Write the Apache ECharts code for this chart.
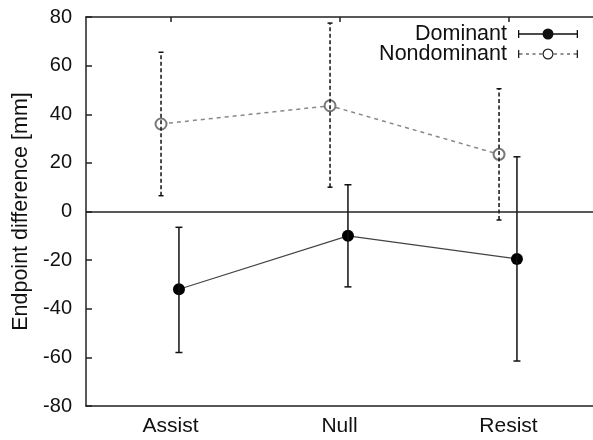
<!DOCTYPE html>
<html>
<head>
<meta charset="utf-8">
<script src="https://cdn.jsdelivr.net/npm/echarts@6/dist/echarts.min.js"></script>
<style>
html,body{margin:0;padding:0;background:#fff;}
#chart{width:593px;height:440px;}
</style>
</head>
<body>
<div id="chart"></div>
<script>
const categories = ['Assist', 'Null', 'Resist'];
const yTicks = [-80, -60, -40, -20, 0, 20, 40, 60, 80];
const dominantMean = [-32, -10, -19.5];
const dominantLow = [-58, -31, -61.5];
const dominantHigh = [-6.5, 11, 22.5];
const nondominantMean = [36, 43.5, 23.5];
const nondominantLow = [6.5, 10, -3.5];
const nondominantHigh = [65.5, 77.5, 50.5];

const FONT = 'Liberation Sans, Arial, sans-serif';
const DOM_OFF = 0.05, NON_OFF = -0.056;

function pts(mean, off) { return mean.map((v, i) => [i + off, v]); }
function bars(low, high, off) { return low.map((v, i) => [i + off, v, high[i]]); }

function errRender(capHalf, dash) {
  return function (params, api) {
    const x = api.value(0);
    const p1 = api.coord([x, api.value(1)]);
    const p2 = api.coord([x, api.value(2)]);
    const style = { stroke: '#111', lineWidth: 1.5, lineDash: dash, fill: null };
    return {
      type: 'group',
      children: [
        { type: 'line', shape: { x1: p1[0], y1: p1[1], x2: p2[0], y2: p2[1] }, style: style },
        { type: 'line', shape: { x1: p1[0] - capHalf, y1: p1[1], x2: p1[0] + capHalf, y2: p1[1] }, style: { stroke: '#111', lineWidth: 1.5 } },
        { type: 'line', shape: { x1: p2[0] - capHalf, y1: p2[1], x2: p2[0] + capHalf, y2: p2[1] }, style: { stroke: '#111', lineWidth: 1.5 } }
      ]
    };
  };
}

// legend icons (line with error caps and marker)
const domIcon = 'path://M-6 7 M0 3 L1.3 3 L1.3 6.3 L58.7 6.3 L58.7 3 L60 3 L60 11 L58.7 11 L58.7 7.7 L1.3 7.7 L1.3 11 L0 11 Z M35.5 7 A5.5 5.5 0 1 1 24.5 7 A5.5 5.5 0 1 1 35.5 7 Z';
let nonIcon = 'path://M-6 7 M0 3 L1.3 3 L1.3 11 L0 11 Z M58.7 3 L60 3 L60 11 L58.7 11 Z ';
const dashes = [[1.3, 4.5], [8, 11], [14.5, 17.5], [21, 24.2], [35.8, 39], [42.5, 45.5], [49, 52], [55.5, 58.7]];
dashes.forEach(d => { nonIcon += 'M' + d[0] + ' 6.4 L' + d[1] + ' 6.4 L' + d[1] + ' 7.6 L' + d[0] + ' 7.6 Z '; });
nonIcon += 'M35.5 7 A5.5 5.5 0 1 1 24.5 7 A5.5 5.5 0 1 1 35.5 7 Z M34.3 7 A4.3 4.3 0 1 0 25.7 7 A4.3 4.3 0 1 0 34.3 7 Z';

const chart = echarts.init(document.getElementById('chart'), null, { renderer: 'canvas' });
chart.setOption({
  animation: false,
  backgroundColor: '#fff',
  textStyle: { fontFamily: FONT },
  grid: { left: 86, right: -8, top: 17, bottom: 34 },
  legend: {
    right: 10, top: 18, orient: 'vertical', align: 'right',
    itemWidth: 66, itemHeight: 14, itemGap: -2,
    textStyle: { fontSize: 21.5, color: '#111', fontFamily: FONT, lineHeight: 20 },
    data: [
      { name: 'Dominant', icon: domIcon, itemStyle: { color: '#111', borderWidth: 0, borderColor: '#111' } },
      { name: 'Nondominant', icon: nonIcon, itemStyle: { color: '#222', borderWidth: 0, borderColor: '#222' } }
    ],
    selectedMode: false
  },
  xAxis: [
    {
      type: 'category', data: categories, position: 'bottom', boundaryGap: true,
      axisLine: { onZero: false, lineStyle: { color: '#222', width: 1.5 } },
      axisTick: { inside: true, alignWithLabel: true, length: 5, lineStyle: { color: '#222', width: 1.5 } },
      axisLabel: { fontSize: 21, color: '#111', margin: 10, fontFamily: FONT },
      splitLine: { show: false }
    },
    {
      type: 'category', data: categories, position: 'top', boundaryGap: true,
      axisLine: { onZero: false, lineStyle: { color: '#222', width: 1.5 } },
      axisTick: { show: true, inside: true, alignWithLabel: true, length: 5, lineStyle: { color: '#222', width: 1.5 } },
      axisLabel: { show: false },
      splitLine: { show: false }
    },
    { type: 'value', min: -0.5, max: 2.5, show: false }
  ],
  yAxis: {
    type: 'value', min: yTicks[0], max: yTicks[yTicks.length - 1], interval: 20,
    name: 'Endpoint difference [mm]', nameLocation: 'middle', nameRotate: 90, nameGap: 45,
    nameTextStyle: { fontSize: 21.5, color: '#111', fontFamily: FONT },
    axisLine: { show: true, onZero: false, lineStyle: { color: '#222', width: 1.5 } },
    axisTick: { show: true, inside: true, length: 6, lineStyle: { color: '#222', width: 1.5 } },
    axisLabel: { fontSize: 20, color: '#111', margin: 14, fontFamily: FONT },
    splitLine: { show: false }
  },
  series: [
    {
      name: 'Nondominant', type: 'line', xAxisIndex: 2, data: pts(nondominantMean, NON_OFF),
      lineStyle: { color: '#888', width: 1.5, type: [4, 4] },
      symbol: 'emptyCircle', symbolSize: 11,
      itemStyle: { color: '#777', borderColor: '#777', borderWidth: 1.5 },
      z: 3
    },
    {
      name: 'Nondominant', type: 'custom', xAxisIndex: 2, data: bars(nondominantLow, nondominantHigh, NON_OFF),
      renderItem: errRender(2.5, [4, 2.5]), itemStyle: { color: '#222' }, z: 4
    },
    {
      name: 'Dominant', type: 'line', xAxisIndex: 2, data: pts(dominantMean, DOM_OFF),
      lineStyle: { color: '#444', width: 1.2 },
      symbol: 'circle', symbolSize: 12,
      itemStyle: { color: '#000' },
      markLine: {
        silent: true, symbol: 'none', label: { show: false },
        lineStyle: { color: '#222', width: 1.5, type: 'solid' },
        data: [{ yAxis: 0 }]
      },
      z: 3
    },
    {
      name: 'Dominant', type: 'custom', xAxisIndex: 2, data: bars(dominantLow, dominantHigh, DOM_OFF),
      renderItem: errRender(3.5, null), itemStyle: { color: '#111' }, z: 4
    }
  ]
});
</script>
</body>
</html>
